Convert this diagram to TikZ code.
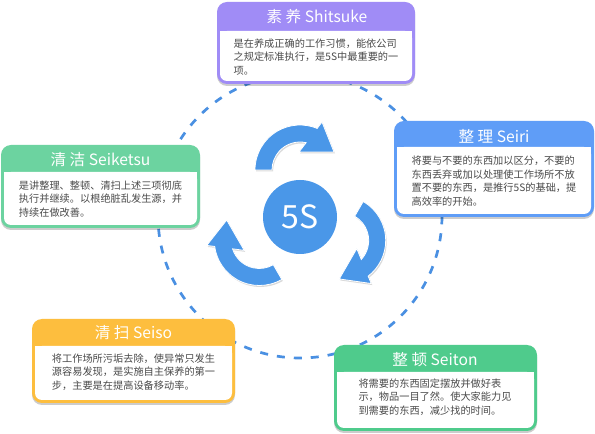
\documentclass[tikz,border=0pt]{standalone}
\usepackage{fontspec}
\setmainfont{Noto Sans CJK SC}
\usetikzlibrary{shadows}
\definecolor{cPurple}{HTML}{A08CF6}
\definecolor{cBlue}{HTML}{5F9DF7}
\definecolor{cGreenA}{HTML}{6CD3A0}
\definecolor{cOrange}{HTML}{FDBE3E}
\definecolor{cGreenB}{HTML}{4FCB8C}
\definecolor{cArrow}{HTML}{4A97E8}
\definecolor{cDash}{HTML}{4A90E2}
\definecolor{cBody}{HTML}{4A4A4A}
\tikzset{
  headtxt/.style={text=white, font=\fontsize{15.6}{18}\selectfont, inner sep=0pt},
  bodytxt/.style={text=cBody, font=\fontsize{10.2}{13.6}\selectfont, align=left, inner sep=0pt},
  boxshadow/.style={drop shadow={shadow xshift=0pt, shadow yshift=-2pt, opacity=0.2, fill=black}},
  arrowshape/.style={fill=cArrow, draw=white, line width=0.8pt, line join=miter,
     drop shadow={shadow xshift=1pt, shadow yshift=-1.5pt, opacity=0.15, fill=black}}
}
% #1 x1, #2 y1 (bottom), #3 x2, #4 y2 (top), #5 header bottom, #6 colour
\newcommand\fivesbox[6]{%
  \fill[#6, rounded corners=10pt, boxshadow] (#1,#2) rectangle (#3,#4);
  \fill[white, rounded corners=7pt] (#1+3,#2+3) rectangle (#3-3,#5);
  \fill[white] (#1+3,#5-12) rectangle (#3-3,#5);
}
\begin{document}
\begin{tikzpicture}[x=1pt,y=1pt]
\useasboundingbox (0,0) rectangle (595,434);
\fill[white] (0,0) rectangle (595,434);

% dashed ring
\draw[cDash, line width=2.7pt, dash pattern=on 8pt off 9pt] (300,218) circle (142);

% three circular arrows
\foreach \a in {0,-120,-240}{
  \begin{scope}[shift={(300,217)}, rotate=\a, shift={(0,47)}]
    \path[arrowshape] (180:45) arc[start angle=180, end angle=67.6, radius=45]
      -- (22,48) -- (34,18) -- (-1,18) -- (77.3:28)
      arc[start angle=77.3, end angle=180, radius=28] -- cycle;
  \end{scope}
}

% centre
\fill[cArrow] (300,217) circle (37);
\node[text=white, font=\fontsize{32}{36}\selectfont, inner sep=0pt] (center) at (300,217) {5S};

% boxes
\fivesbox{217}{350}{415}{432}{403}{cPurple}
\node[headtxt] (shitsukeH) at (317,417) {素 养 Shitsuke};
\node[bodytxt] (shitsukeB) at (316,377) {是在养成正确的工作习惯，能依公司\\之规定标准执行，是5S中最重要的一\\项。};

\fivesbox{394}{217}{594}{313}{287}{cBlue}
\node[headtxt] (seiriH) at (494,298) {整 理 Seiri};
\node[bodytxt] (seiriB) at (494,253) {将要与不要的东西加以区分，不要的\\东西丢弃或加以处理使工作场所不放\\置不要的东西，是推行5S的基础，提\\高效率的开始。};

\fivesbox{1}{206}{200}{289}{262}{cGreenA}
\node[headtxt] (seiketsuH) at (100.5,274) {清 洁 Seiketsu};
\node[bodytxt] (seiketsuB) at (100.5,235) {是讲整理、整顿、清扫上述三项彻底\\执行并继续。以根绝脏乱发生源，并\\持续在做改善。};

\fivesbox{32}{31}{235}{115}{88}{cOrange}
\node[headtxt] (seisoH) at (133.5,101) {清 扫 Seiso};
\node[bodytxt] (seisoB) at (133.5,62) {将工作场所污垢去除，使异常只发生\\源容易发现，是实施自主保养的第一\\步，主要是在提高设备移动率。};

\fivesbox{334}{3}{537}{89}{62}{cGreenB}
\node[headtxt] (seitonH) at (435,74) {整 顿 Seiton};
\node[bodytxt] (seitonB) at (435,37) {将需要的东西固定摆放并做好表\\示，物品一目了然。使大家能力见\\到需要的东西，减少找的时间。};
\end{tikzpicture}
\end{document}
